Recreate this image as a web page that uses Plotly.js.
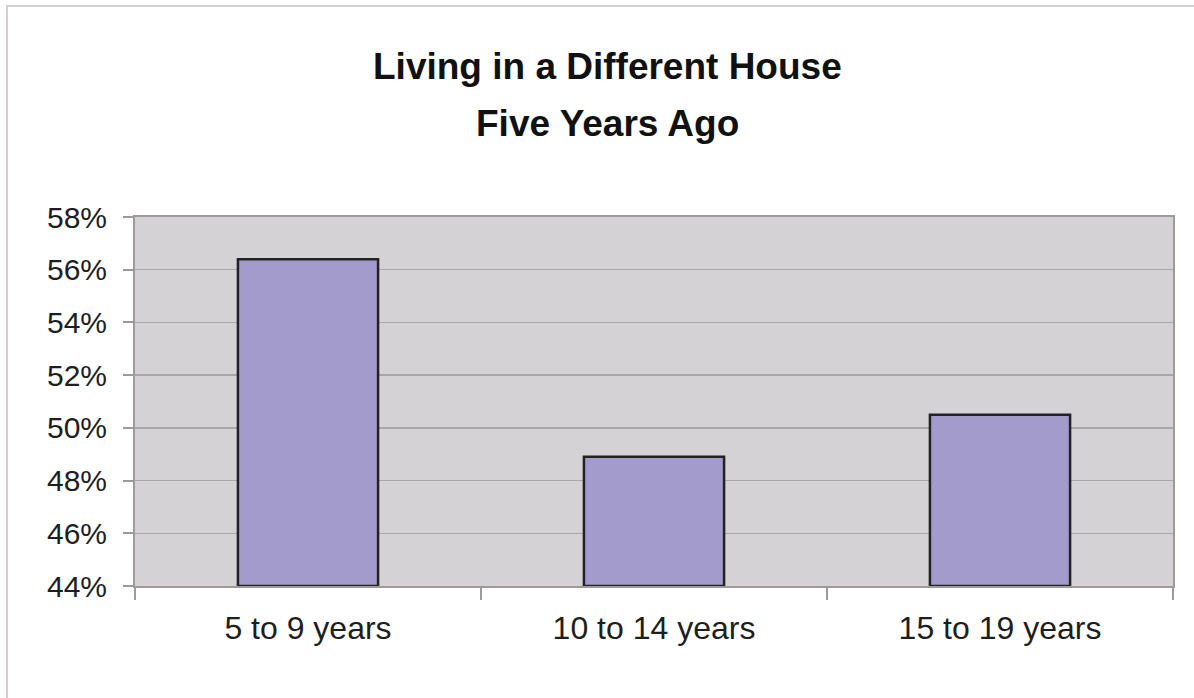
<!DOCTYPE html>
<html>
<head>
<meta charset="utf-8">
<script src="https://cdn.plot.ly/plotly-3.0.1.min.js"></script>
<style>
  html, body { margin: 0; padding: 0; background: #ffffff; }
  #wrap { position: relative; width: 1194px; height: 698px; }
  #chart { width: 1194px; height: 698px; }
  #frame { position: absolute; left: 6px; top: 5px; right: 0; bottom: 0;
           border-top: 2px solid #d3cfcf; border-left: 2px solid #d3cfcf; pointer-events: none; }
</style>
</head>
<body>
<div id="wrap">
  <div id="chart"></div>
  <div id="frame"></div>
</div>
<script>
const titleLines = ["Living in a Different House", "Five Years Ago"];
const categories = ["5 to 9 years", "10 to 14 years", "15 to 19 years"];
const values = [0.564, 0.489, 0.505];
const axisMin = 0.44;
const axisMax = 0.58;
const yTicks = [0.44, 0.46, 0.48, 0.50, 0.52, 0.54, 0.56, 0.58];
const yTickLabels = ["44%", "46%", "48%", "50%", "52%", "54%", "56%", "58%"];

const trace = {
  type: "bar",
  x: categories,
  y: values.map(v => v - axisMin),
  base: axisMin,
  marker: { color: "#a39bcc", line: { color: "#222222", width: 2.5 } },
  width: 0.405,
  hoverinfo: "x+y"
};

const font = "Liberation Sans, Arial, Helvetica, sans-serif";

const layout = {
  width: 1194,
  height: 698,
  margin: { l: 135, r: 21, t: 217, b: 112 },
  paper_bgcolor: "#ffffff",
  plot_bgcolor: "#d4d2d4",
  showlegend: false,
  font: { family: font, color: "#1e1e1e" },
  annotations: [
    { text: "<b>" + titleLines[0] + "</b>", xref: "paper", yref: "paper", x: 0.455, y: 1, yshift: 151,
      xanchor: "center", yanchor: "middle", showarrow: false, font: { family: font, size: 37, color: "#111111" } },
    { text: "<b>" + titleLines[1] + "</b>", xref: "paper", yref: "paper", x: 0.455, y: 1, yshift: 94,
      xanchor: "center", yanchor: "middle", showarrow: false, font: { family: font, size: 37, color: "#111111" } }
  ],
  xaxis: {
    type: "category",
    showgrid: false,
    showline: true,
    linecolor: "#9e9a9a",
    linewidth: 2,
    mirror: true,
    ticks: "outside",
    tickson: "boundaries",
    ticklen: 12,
    tickcolor: "#9e9a9a",
    tickwidth: 2,
    ticklabelstandoff: 13,
    tickfont: { family: font, size: 32, color: "#1e1e1e" },
    fixedrange: true
  },
  yaxis: {
    range: [axisMin, axisMax],
    tickvals: yTicks,
    ticktext: yTickLabels,
    showgrid: true,
    gridcolor: "#aaa6a8",
    gridwidth: 1.5,
    zeroline: false,
    showline: true,
    linecolor: "#9e9a9a",
    linewidth: 2,
    mirror: true,
    ticks: "outside",
    ticklen: 10,
    tickcolor: "#9e9a9a",
    tickwidth: 2,
    ticklabelstandoff: 10,
    tickfont: { family: font, size: 30, color: "#1e1e1e" },
    fixedrange: true
  }
};

Plotly.newPlot("chart", [trace], layout, { displayModeBar: false, staticPlot: true });
</script>
</body>
</html>
